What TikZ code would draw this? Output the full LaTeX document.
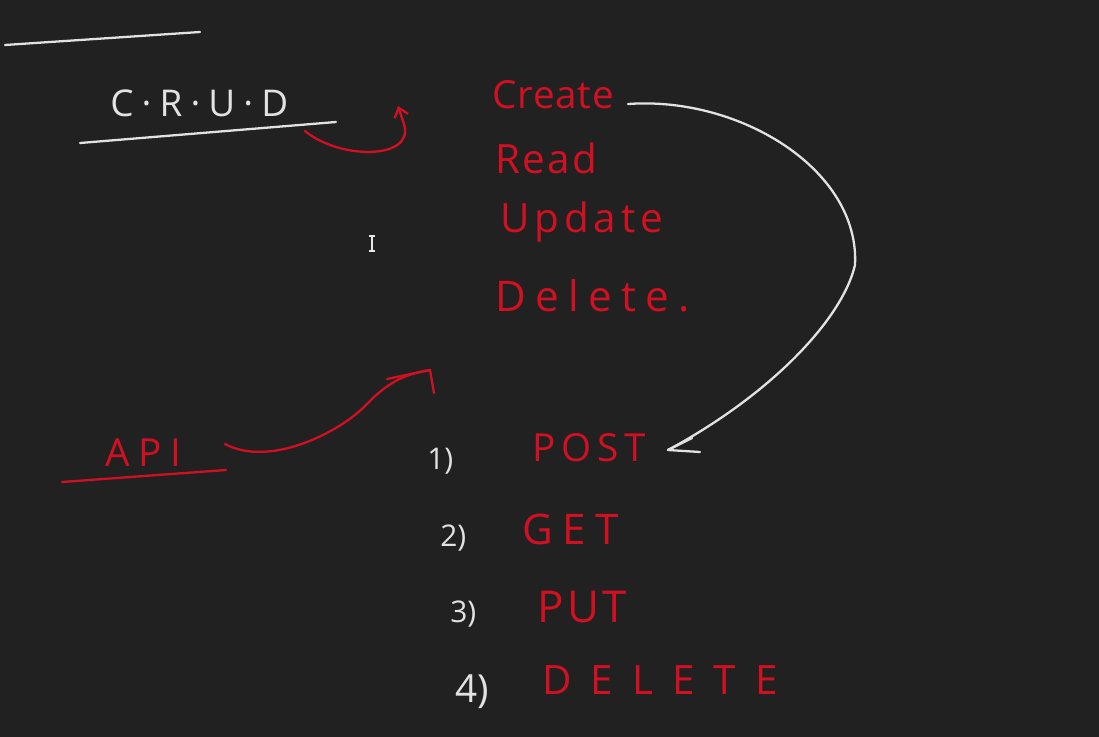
\documentclass[tikz,border=0pt]{standalone}
\usepackage{fontspec}
\usetikzlibrary{arrows.meta}
\newfontfamily\hand{Open Sans}
\definecolor{bg}{HTML}{212121}
\definecolor{ink}{HTML}{D11021}
\definecolor{chalk}{HTML}{E2E2E2}
\begin{document}
\begin{tikzpicture}[x=0.02cm,y=-0.02cm,
  redtxt/.style={text=ink, anchor=west, inner sep=0pt},
  whitetxt/.style={text=chalk, anchor=west, inner sep=0pt},
  redline/.style={draw=ink, line width=1.3pt, line cap=round, line join=round},
  whiteline/.style={draw=chalk, line width=1.3pt, line cap=round, line join=round}]
\fill[bg] (0,0) rectangle (1099,737);
\useasboundingbox (0,0) rectangle (1099,737);

% top line
\coordinate (t1) at (5,45);
\coordinate (t2) at (200,32);
\draw[whiteline] (t1) -- (t2);

% CRUD
\node[whitetxt, font=\hand\fontsize{21}{26}\selectfont\addfontfeatures{LetterSpace=22}] (crud) at (110,103) {C·R·U·D};
\coordinate (u1) at (80,143);
\coordinate (u2) at (336,122);
\draw[whiteline] (u1) -- (u2);

% CRUD words
\node[redtxt, font=\hand\fontsize{22}{26}\selectfont\addfontfeatures{LetterSpace=2}] (create) at (492,95) {Create};
\node[redtxt, font=\hand\fontsize{23}{26}\selectfont\addfontfeatures{LetterSpace=6}] (read) at (495,158) {Read};
\node[redtxt, font=\hand\fontsize{23}{26}\selectfont\addfontfeatures{LetterSpace=12}] (update) at (500,222) {Update};
\node[redtxt, font=\hand\fontsize{24}{28}\selectfont\addfontfeatures{LetterSpace=22}] (delete) at (495,296) {Delete.};

% red arrow from underline toward Create
\coordinate (a1) at (305,131);
\coordinate (a2) at (398,106);
\draw[redline, -{Straight Barb[length=5pt,width=8pt]}] (a1) .. controls (340,160) and (415,160) .. (404,124) -- (a2);

% API
\node[redtxt, font=\hand\fontsize{22}{26}\selectfont\addfontfeatures{LetterSpace=22}] (api) at (105,453) {API};
\coordinate (p1) at (62,482);
\coordinate (p2) at (226,470);
\draw[redline] (p1) -- (p2);

\coordinate (b1) at (225,444);
\coordinate (b2) at (430,370);
\draw[redline] (b1) .. controls (270,468) and (340,432) .. (366,405) .. controls (388,382) and (405,374) .. (b2);
\draw[redline] (387,379) -- (b2) -- (434,393);

% HTTP verbs
\node[whitetxt, font=\hand\fontsize{17}{20}\selectfont] (n1) at (427,461) {1)};
\node[redtxt, font=\hand\fontsize{22}{26}\selectfont\addfontfeatures{LetterSpace=15}] (post) at (532,448) {POST};
\node[whitetxt, font=\hand\fontsize{17}{20}\selectfont] (n2) at (440,538) {2)};
\node[redtxt, font=\hand\fontsize{24}{28}\selectfont\addfontfeatures{LetterSpace=22}] (get) at (522,529) {GET};
\node[whitetxt, font=\hand\fontsize{17}{20}\selectfont] (n3) at (450,614) {3)};
\node[redtxt, font=\hand\fontsize{25}{28}\selectfont\addfontfeatures{LetterSpace=8}] (put) at (537,607) {PUT};
\node[whitetxt, font=\hand\fontsize{22}{26}\selectfont] (n4) at (455,692) {4)};
\node[redtxt, font=\hand\fontsize{23}{26}\selectfont\addfontfeatures{LetterSpace=47}] (del) at (542,680) {DELETE};

% white arrow Create -> POST
\coordinate (c1) at (628,104);
\coordinate (c2) at (668,450);
\draw[whiteline] (c1) .. controls (740,96) and (860,170) .. (855,265) .. controls (842,320) and (770,395) .. (c2);
\draw[whiteline] (692,438) -- (c2) -- (700,452);

% text cursor
\draw[chalk!80, line width=0.6pt] (372,236) -- (372,251) (369,236) -- (375,236) (369,251) -- (375,251);
\end{tikzpicture}
\end{document}
